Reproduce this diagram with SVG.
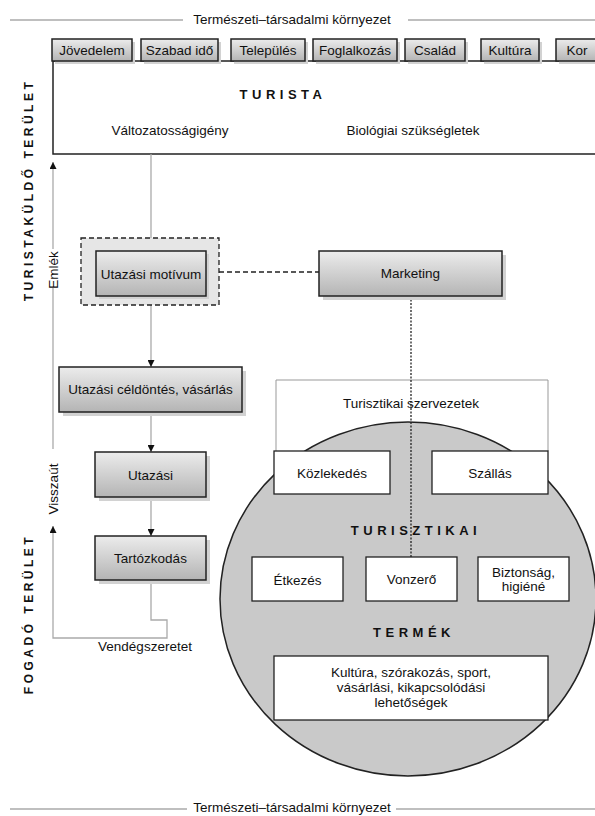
<svg xmlns="http://www.w3.org/2000/svg" width="595" height="816" viewBox="0 0 595 816">
<defs>
<linearGradient id="g" x1="0" y1="0" x2="0" y2="1">
<stop offset="0" stop-color="#ececec"/>
<stop offset="1" stop-color="#b4b4b4"/>
</linearGradient>
<marker id="ah" viewBox="0 0 10 10" refX="10" refY="5" markerWidth="7" markerHeight="7" markerUnits="userSpaceOnUse" orient="auto">
<path d="M0,0 L10,5 L0,10 z" fill="#111"/>
</marker>
<style>
text{font-family:"Liberation Sans",Arial,sans-serif;font-size:13.5px;fill:#111;}
.c{text-anchor:middle;}
.b{font-weight:bold;font-size:13px;letter-spacing:4.5px;}
.v{font-weight:bold;font-size:12px;letter-spacing:3.5px;}
.gbox{fill:url(#g);stroke:#222;stroke-width:1.5;}
.sh{fill:#d2d2d2;}
.wbox{fill:#fff;stroke:#222;stroke-width:1.3;}
.gl{stroke:#aaa;stroke-width:1.3;fill:none;}
</style>
</defs>

<g id="env-top">
<line x1="10" y1="20" x2="183" y2="20" class="gl" stroke-width="1.5"/>
<line x1="408" y1="20" x2="595" y2="20" class="gl" stroke-width="1.5"/>
<text x="292" y="24" class="c">Természeti–társadalmi környezet</text>
</g>

<g id="turista">
<path d="M53,61 H595 M53,61 V154 H595" fill="none" stroke="#222" stroke-width="1.5"/>
<text x="283" y="98.5" class="c b">TURISTA</text>
<text x="170" y="135" class="c">Változatosságigény</text>
<text x="413" y="135" class="c">Biológiai szükségletek</text>
</g>

<g id="factors">
<g id="f-jovedelem"><rect x="55" y="42" width="80" height="22" class="sh"/><rect x="52" y="39" width="80" height="22" class="gbox"/><text x="92" y="55" class="c">Jövedelem</text></g>
<g id="f-szabadido"><rect x="144" y="42" width="77" height="22" class="sh"/><rect x="141" y="39" width="77" height="22" class="gbox"/><text x="179.5" y="55" class="c">Szabad idő</text></g>
<g id="f-telepules"><rect x="234" y="42" width="74" height="22" class="sh"/><rect x="231" y="39" width="74" height="22" class="gbox"/><text x="268" y="55" class="c">Település</text></g>
<g id="f-foglalkozas"><rect x="316" y="42" width="84" height="22" class="sh"/><rect x="313" y="39" width="84" height="22" class="gbox"/><text x="355" y="55" class="c">Foglalkozás</text></g>
<g id="f-csalad"><rect x="408" y="42" width="60" height="22" class="sh"/><rect x="405" y="39" width="60" height="22" class="gbox"/><text x="435" y="55" class="c">Család</text></g>
<g id="f-kultura"><rect x="484" y="42" width="58" height="22" class="sh"/><rect x="481" y="39" width="58" height="22" class="gbox"/><text x="510" y="55" class="c">Kultúra</text></g>
<g id="f-kor"><rect x="559" y="42" width="45" height="22" class="sh"/><rect x="556" y="39" width="45" height="22" class="gbox"/><text x="577" y="55" class="c">Kor</text></g>
</g>

<g id="side-labels">
<text transform="translate(33,190) rotate(-90)" class="c v">TURISTAKÜLDŐ TERÜLET</text>
<text transform="translate(33,614) rotate(-90)" class="c v">FOGADÓ TERÜLET</text>
<text transform="translate(58,270) rotate(-90)" class="c">Emlék</text>
<text transform="translate(58,489) rotate(-90)" class="c">Visszaút</text>
</g>

<g id="org-frame">
<path d="M276,451 V380 H548 V451" fill="none" stroke="#999" stroke-width="1"/>
<text x="411" y="408" class="c">Turisztikai szervezetek</text>
</g>

<g id="product">
<ellipse cx="408" cy="599" rx="188" ry="177" fill="#c9c9c9" stroke="#222" stroke-width="1.5"/>
<text x="416" y="535" class="c b">TURISZTIKAI</text>
<text x="414" y="637" class="c b">TERMÉK</text>
</g>

<g id="connectors">
<line x1="151" y1="154" x2="151" y2="249" class="gl" marker-end="url(#ah)"/>
<line x1="151" y1="296" x2="151" y2="367" class="gl" marker-end="url(#ah)"/>
<line x1="151" y1="412" x2="151" y2="452" class="gl" marker-end="url(#ah)"/>
<line x1="151" y1="497" x2="151" y2="536" class="gl" marker-end="url(#ah)"/>
<path d="M151,580 V620 H167 V638 H53 V526" class="gl" marker-end="url(#ah)"/>
<line x1="53" y1="249" x2="53" y2="162" class="gl" marker-end="url(#ah)"/>
<line x1="53" y1="288" x2="53" y2="449" class="gl"/>
<line x1="219" y1="272" x2="319" y2="272" stroke="#222" stroke-width="1.3" stroke-dasharray="5,3"/>
<line x1="411" y1="296" x2="411" y2="557" stroke="#222" stroke-width="1.3" stroke-dasharray="2,1.5"/>
</g>

<g id="motivum">
<rect x="81" y="238" width="138" height="67" fill="#e6e6e6" stroke="#222" stroke-width="1.3" stroke-dasharray="5,3"/>
<rect x="99" y="254" width="110" height="45" class="sh"/>
<rect x="96" y="251" width="110" height="45" class="gbox"/>
<text x="151" y="279" class="c">Utazási motívum</text>
</g>

<g id="marketing">
<rect x="323" y="255" width="183" height="45" class="sh"/>
<rect x="319" y="251" width="183" height="45" class="gbox"/>
<text x="410.5" y="278" class="c">Marketing</text>
</g>

<g id="celdontes">
<rect x="63" y="371" width="183" height="45" class="sh"/>
<rect x="59" y="367" width="183" height="45" class="gbox"/>
<text x="150.5" y="394" class="c">Utazási céldöntés, vásárlás</text>
</g>

<g id="utazasi">
<rect x="99" y="456" width="111" height="45" class="sh"/>
<rect x="95" y="452" width="111" height="45" class="gbox"/>
<text x="150.5" y="480" class="c">Utazási</text>
</g>

<g id="tartozkodas">
<rect x="99" y="540" width="111" height="44" class="sh"/>
<rect x="95" y="536" width="111" height="44" class="gbox"/>
<text x="150.5" y="563" class="c">Tartózkodás</text>
</g>

<g id="vendegszeretet">
<text x="145" y="651" class="c">Vendégszeretet</text>
</g>

<g id="kozlekedes"><rect x="274" y="451" width="116" height="43" class="wbox"/><text x="332" y="478" class="c">Közlekedés</text></g>
<g id="szallas"><rect x="432" y="451" width="116" height="43" class="wbox"/><text x="490" y="478" class="c">Szállás</text></g>
<g id="etkezes"><rect x="252" y="557" width="91" height="44" class="wbox"/><text x="297.5" y="585" class="c">Étkezés</text></g>
<g id="vonzero"><rect x="366" y="557" width="91" height="44" class="wbox"/><text x="411.5" y="584" class="c">Vonzerő</text></g>
<g id="biztonsag"><rect x="478" y="557" width="91" height="44" class="wbox"/><text x="523.5" y="577" class="c">Biztonság,</text><text x="523.5" y="591" class="c">higiéné</text></g>
<g id="kultura-box"><rect x="274" y="656" width="274" height="64" class="wbox"/>
<text x="411" y="677" class="c">Kultúra, szórakozás, sport,</text>
<text x="411" y="692" class="c">vásárlási, kikapcsolódási</text>
<text x="411" y="707" class="c">lehetőségek</text></g>

<g id="env-bottom">
<line x1="10" y1="809" x2="187" y2="809" class="gl" stroke-width="1.5"/>
<line x1="396" y1="809" x2="595" y2="809" class="gl" stroke-width="1.5"/>
<text x="292" y="812" class="c">Természeti–társadalmi környezet</text>
</g>
</svg>
